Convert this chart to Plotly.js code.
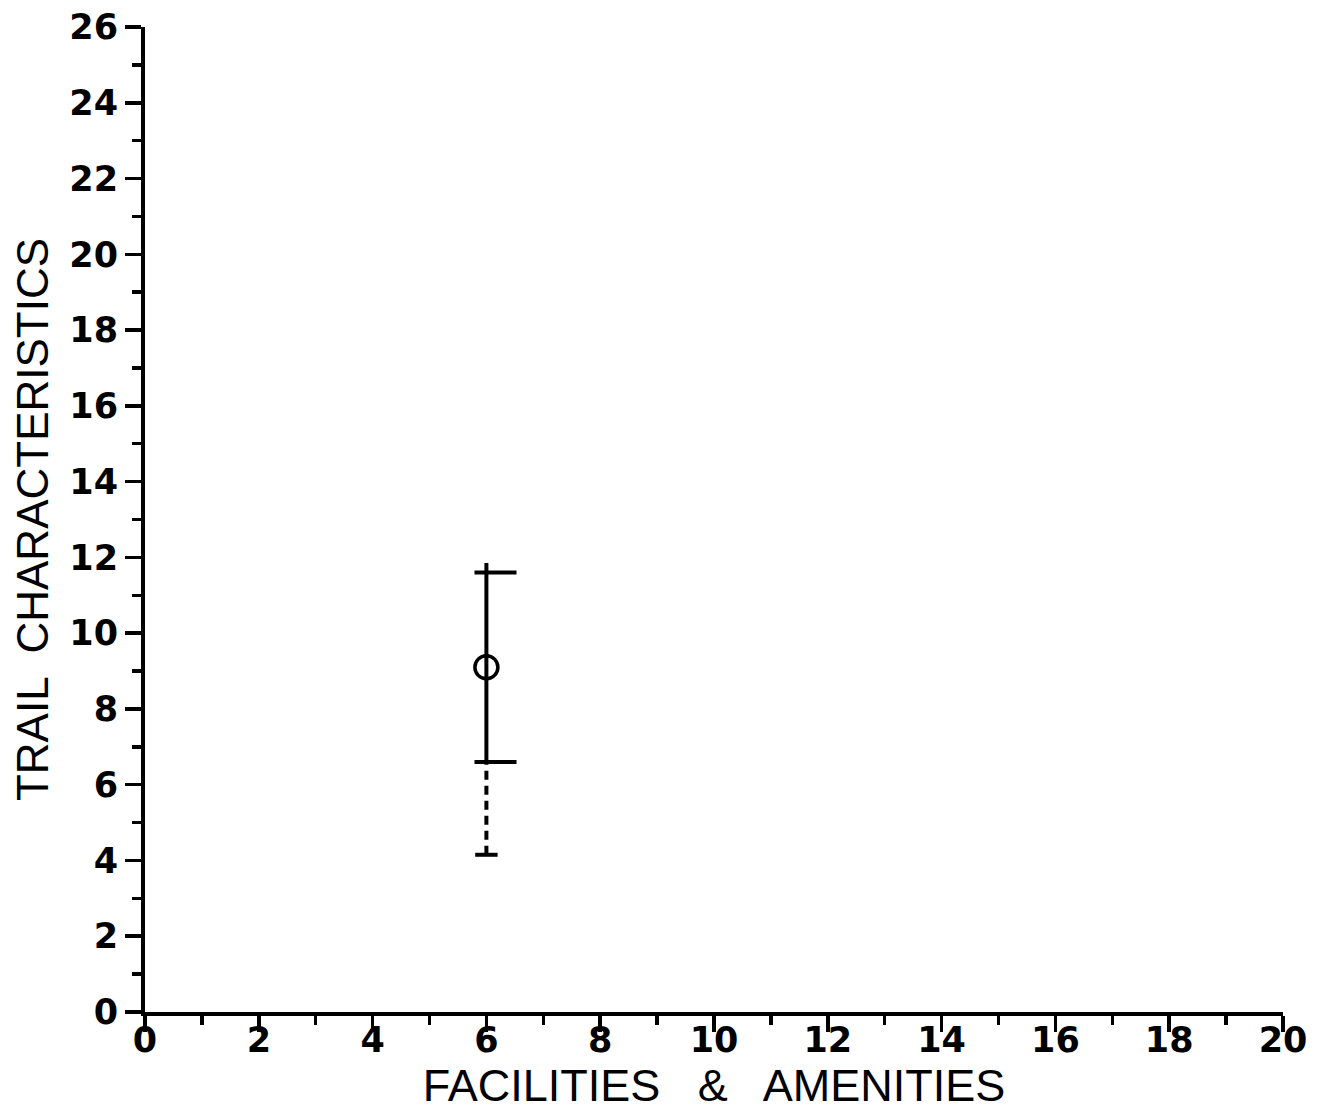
<!DOCTYPE html>
<html>
<head>
<meta charset="utf-8">
<script src="https://cdn.plot.ly/plotly-3.0.1.min.js"></script>
<style>html,body{margin:0;padding:0;background:#fff;}#chart{width:1317px;height:1115px;}</style>
</head>
<body>
<div id="chart"></div>
<script>
// Data
const pointX = [6];
const pointY = [9.1];
const whiskerTop = [11.85];
const quartiles = [6.6, 11.6];
const whiskerBottom = [4.15];
const capOffsetX = [6.16];

const xTickVals = [0,2,4,6,8,10,12,14,16,18,20];
const yTickVals = [0,2,4,6,8,10,12,14,16,18,20,22,24,26];

const ink = '#000';

const traces = [
  { // solid whisker
    x: [pointX[0], pointX[0]], y: [quartiles[0], whiskerTop[0]],
    mode: 'lines', line: {color: ink, width: 4}, hoverinfo: 'skip', showlegend: false
  },
  { // dashed lower whisker
    x: [pointX[0], pointX[0]], y: [whiskerBottom[0], quartiles[0]],
    mode: 'lines', line: {color: ink, width: 4, dash: '9px,6px'}, hoverinfo: 'skip', showlegend: false
  },
  { // quartile caps
    x: [capOffsetX[0], capOffsetX[0]], y: quartiles,
    mode: 'markers', marker: {symbol: 'line-ew-open', size: 30, color: ink, line: {color: ink, width: 4}},
    hoverinfo: 'skip', showlegend: false
  },
  { // bottom cap
    x: pointX, y: whiskerBottom,
    mode: 'markers', marker: {symbol: 'line-ew-open', size: 16, color: ink, line: {color: ink, width: 4}},
    hoverinfo: 'skip', showlegend: false
  },
  { // central point
    x: pointX, y: pointY,
    mode: 'markers', marker: {symbol: 'circle-open', size: 23, color: ink, line: {color: ink, width: 3.5}},
    showlegend: false
  }
];

const axisCommon = {
  showgrid: false, zeroline: false, showline: true, linecolor: ink, linewidth: 4,
  ticks: 'outside', ticklen: 16, tickwidth: 3.5, tickcolor: ink,
  minor: {ticks: 'outside', ticklen: 9, tickwidth: 3.5, tickcolor: ink, dtick: 1},
  tickfont: {family: 'DejaVu Sans, sans-serif', size: 35, color: ink, weight: 'bold'}
};

const layout = {
  width: 1317, height: 1115,
  paper_bgcolor: '#fff', plot_bgcolor: '#fff',
  margin: {l: 145, r: 34, t: 27, b: 103},
  xaxis: Object.assign({}, axisCommon, {
    range: [0, 20], tickvals: xTickVals, ticklabelstandoff: -22,
    title: {text: 'FACILITIES   &amp;   AMENITIES', standoff: 2,
      font: {family: 'Liberation Sans, Arial, sans-serif', size: 45, color: ink}}
  }),
  yaxis: Object.assign({}, axisCommon, {
    range: [0, 26], tickvals: yTickVals, ticklabelstandoff: 0,
    title: {text: 'TRAIL  CHARACTERISTICS', standoff: 8,
      font: {family: 'Liberation Sans, Arial, sans-serif', size: 44, color: ink}}
  })
};

Plotly.newPlot('chart', traces, layout, {displayModeBar: false, staticPlot: true});
</script>
</body>
</html>
